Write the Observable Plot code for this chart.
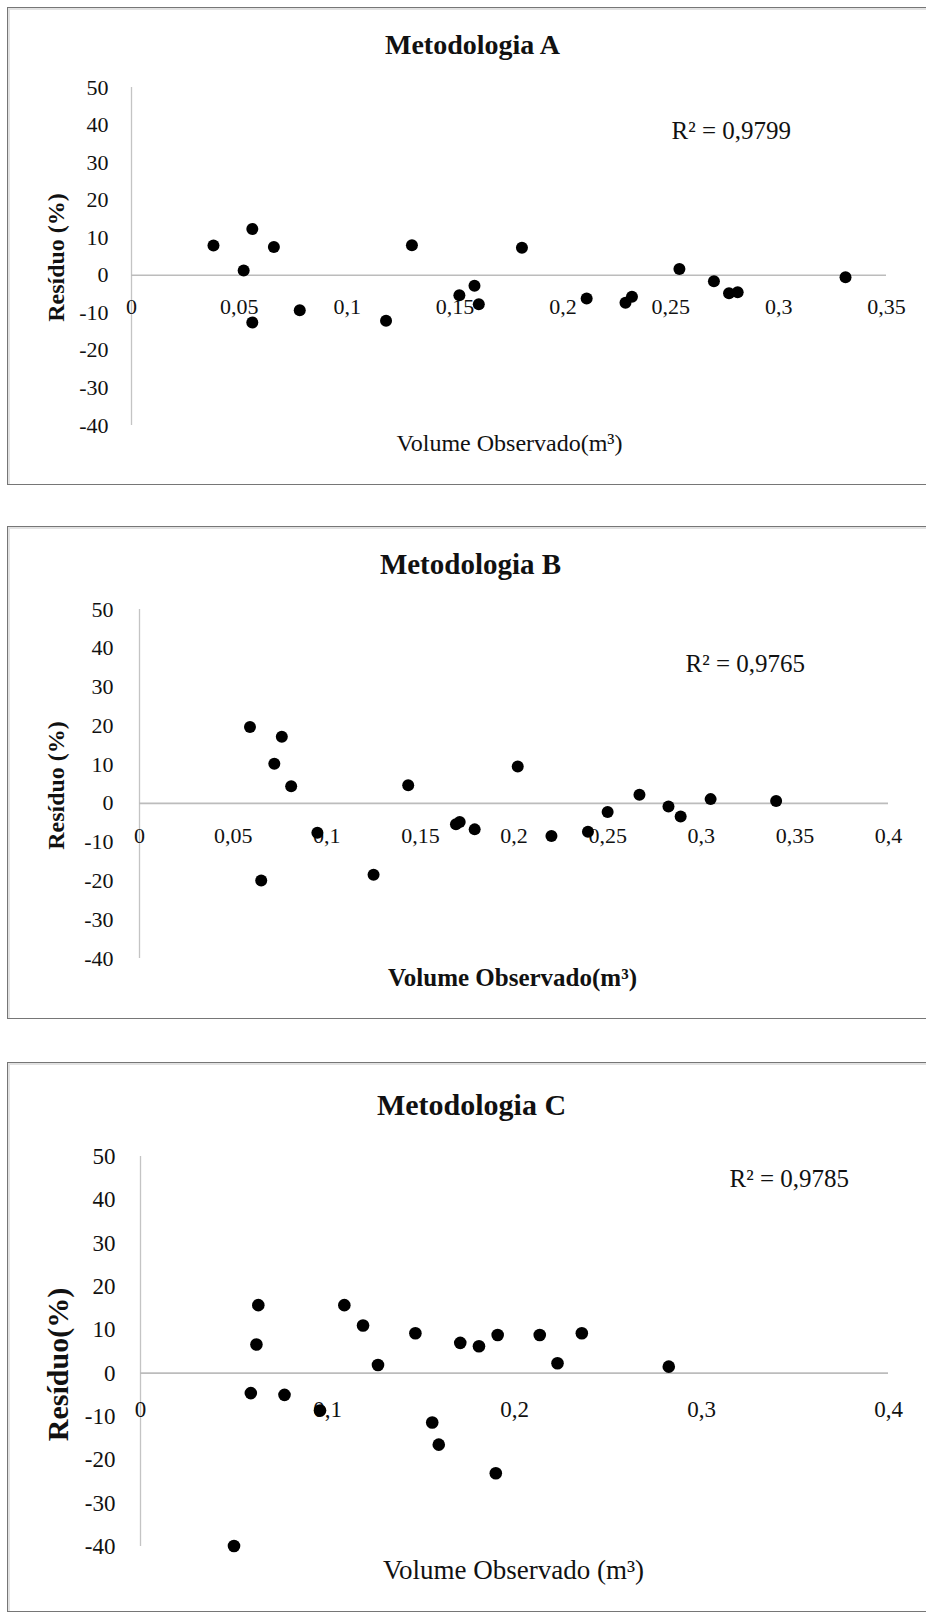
<!DOCTYPE html>
<html>
<head>
<meta charset="utf-8">
<script src="https://cdn.jsdelivr.net/npm/d3@7"></script>
<script src="https://cdn.jsdelivr.net/npm/@observablehq/plot@0.6"></script>
<style>
  body { margin: 0; background: #fff; width: 926px; height: 1613px; position: relative; overflow: hidden;
         font-family: "Liberation Serif", "Times New Roman", serif; }
  .box { position: absolute; left: 7px; width: 940px; box-sizing: border-box;
         border: 1.5px solid #767676; box-shadow: inset 2px 2px 0 #e2e2e2; }
  .chart { position: absolute; left: 0; }
  .chart svg { overflow: visible; }
</style>
</head>
<body>
<div class="box" style="top:7px;height:478px"></div>
<div class="box" style="top:526px;height:493px"></div>
<div class="box" style="top:1062px;height:550px"></div>
<div class="chart" id="chartA" style="top:0px"></div>
<div class="chart" id="chartB" style="top:510px"></div>
<div class="chart" id="chartC" style="top:1040px"></div>
<script>
// ---- data ----
const titles = ["Metodologia A", "Metodologia B", "Metodologia C"];
const r2Labels = ["R² = 0,9799", "R² = 0,9765", "R² = 0,9785"];
const xTitles = ["Volume Observado(m³)", "Volume Observado(m³)", "Volume Observado (m³)"];
const yTitles = ["Resíduo (%)", "Resíduo (%)", "Resíduo(%)"];
const yTicks = [-40, -30, -20, -10, 0, 10, 20, 30, 40, 50];
const xTicksA = [0, 0.05, 0.1, 0.15, 0.2, 0.25, 0.3, 0.35];
const xTicksB = [0, 0.05, 0.1, 0.15, 0.2, 0.25, 0.3, 0.35, 0.4];
const xTicksC = [0, 0.1, 0.2, 0.3, 0.4];

const volA = [0.038, 0.056, 0.052, 0.066, 0.056, 0.078, 0.118, 0.130, 0.152, 0.159, 0.161, 0.181, 0.211, 0.229, 0.232, 0.254, 0.270, 0.277, 0.281, 0.331];
const resA = [7.9, 12.3, 1.3, 7.5, -12.6, -9.3, -12.1, 8.0, -5.3, -2.8, -7.7, 7.3, -6.2, -7.3, -5.7, 1.7, -1.6, -4.8, -4.5, -0.5];

const volB = [0.059, 0.076, 0.072, 0.081, 0.065, 0.095, 0.125, 0.1435, 0.169, 0.171, 0.179, 0.202, 0.220, 0.2395, 0.250, 0.267, 0.2825, 0.289, 0.305, 0.340];
const resB = [19.7, 17.2, 10.2, 4.4, -19.9, -7.6, -18.4, 4.7, -5.4, -4.8, -6.7, 9.5, -8.4, -7.3, -2.2, 2.2, -0.8, -3.4, 1.1, 0.6];

const volC = [0.063, 0.062, 0.059, 0.077, 0.096, 0.050, 0.109, 0.119, 0.127, 0.147, 0.156, 0.1595, 0.171, 0.181, 0.191, 0.190, 0.2135, 0.223, 0.236, 0.2825];
const resC = [15.7, 6.6, -4.6, -5.0, -8.6, -39.9, 15.7, 11.0, 1.9, 9.2, -11.4, -16.5, 7.0, 6.2, 8.8, -23.1, 8.8, 2.3, 9.2, 1.5];

const serif = '"Liberation Serif", "Times New Roman", serif';
const fmtComma = d => String(d).replace(".", ",");

function panel(cfg) {
  const data = cfg.vol.map((v, i) => ({x: v, y: cfg.res[i]}));
  return Plot.plot({
    width: 926,
    height: cfg.height,
    marginTop: cfg.mt, marginBottom: cfg.mb, marginLeft: cfg.ml, marginRight: cfg.mr,
    x: {domain: [0, cfg.xmax], axis: null},
    y: {domain: [-40, 50]},
    style: {fontFamily: serif, fontSize: cfg.tickSize + "px", color: "#000", background: "transparent"},
    marks: [
      Plot.ruleX([0], {stroke: "#c4c4c4", strokeWidth: 1.3}),
      Plot.ruleY([0], {stroke: "#bcbcbc", strokeWidth: 1.6}),
      Plot.axisY({ticks: yTicks, tickSize: 0, tickPadding: cfg.ypad, tickFormat: d => String(d),
                  label: null, fontSize: cfg.tickSize, fill: "#111"}),
      Plot.text(cfg.xticks, {x: d => d, y: () => 0, dy: cfg.xdy, text: fmtComma,
                             fontSize: cfg.tickSize, fill: "#111"}),
      Plot.dot(data, {x: "x", y: "y", r: cfg.r, fill: "#000", stroke: "none"}),
      Plot.text([cfg.title], {frameAnchor: "top", lineAnchor: "middle", textAnchor: "middle",
                              dx: cfg.tdx, dy: cfg.tdy, fontWeight: "bold",
                              fontSize: cfg.titleSize, fill: "#111"}),
      Plot.text([cfg.r2], {frameAnchor: "top-left", lineAnchor: "middle", textAnchor: "start",
                           dx: cfg.rdx, dy: cfg.rdy, fontSize: 25, fill: "#111"}),
      Plot.text([cfg.ytitle], {frameAnchor: "left", lineAnchor: "middle", textAnchor: "middle",
                               rotate: -90, dx: cfg.ydx, dy: cfg.ydy,
                               fontWeight: cfg.ytWeight, fontSize: cfg.ytSize, fill: "#111"}),
      Plot.text([cfg.xtitle], {frameAnchor: "bottom", lineAnchor: "middle", textAnchor: "middle",
                               dx: cfg.xtdx, dy: cfg.xtdy,
                               fontWeight: cfg.xtWeight, fontSize: cfg.xtSize, fill: "#111"})
    ]
  });
}

document.getElementById("chartA").append(panel({
  vol: volA, res: resA, xticks: xTicksA, xmax: 0.35,
  height: 500, mt: 87, mb: 75, ml: 131, mr: 40,
  tickSize: 22, ypad: 23, xdy: 32, r: 6,
  title: titles[0], titleSize: 28, tdx: -36.5, tdy: -42,
  r2: r2Labels[0], rdx: 540, rdy: 43,
  ytitle: yTitles[0], ytSize: 24, ytWeight: "bold", ydx: -75, ydy: 1,
  xtitle: xTitles[0], xtSize: 24, xtWeight: "normal", xtdx: 0.5, xtdy: 18
}));

document.getElementById("chartB").append(panel({
  vol: volB, res: resB, xticks: xTicksB, xmax: 0.4,
  height: 520, mt: 99, mb: 72, ml: 139, mr: 38,
  tickSize: 22, ypad: 26, xdy: 33, r: 6,
  title: titles[1], titleSize: 29, tdx: -43.5, tdy: -45,
  r2: r2Labels[1], rdx: 546, rdy: 54,
  ytitle: yTitles[1], ytSize: 24, ytWeight: "bold", ydx: -83, ydy: 1.5,
  xtitle: xTitles[1], xtSize: 25, xtWeight: "bold", xtdx: -1.5, xtdy: 19
}));

document.getElementById("chartC").append(panel({
  vol: volC, res: resC, xticks: xTicksC, xmax: 0.4,
  height: 573, mt: 116, mb: 67, ml: 140, mr: 38,
  tickSize: 23, ypad: 25, xdy: 36, r: 6.3,
  title: titles[2], titleSize: 30, tdx: -43, tdy: -51,
  r2: r2Labels[2], rdx: 589, rdy: 22,
  ytitle: yTitles[2], ytSize: 30, ytWeight: "bold", ydx: -82, ydy: 13,
  xtitle: xTitles[2], xtSize: 27, xtWeight: "normal", xtdx: -1, xtdy: 24
}));
</script>
</body>
</html>
